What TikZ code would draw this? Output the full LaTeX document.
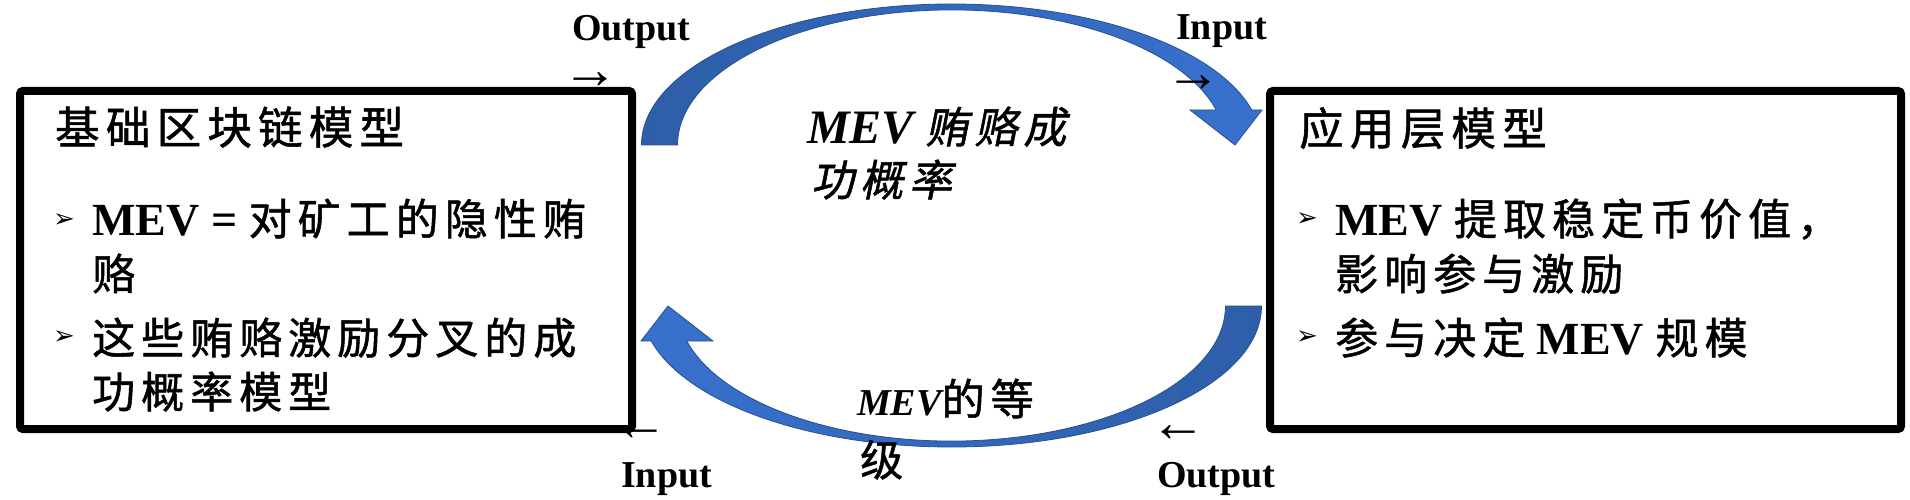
\documentclass[tikz,border=0pt]{standalone}
\usepackage{fontspec}
\setmainfont{Liberation Serif}
\newfontfamily\cjk{Noto Sans CJK SC}[LetterSpace=14,FakeBold=1.2]
\newfontfamily\cjkit{Noto Sans CJK SC}[LetterSpace=14,FakeSlant=0.2,FakeBold=1.2]
\newfontfamily\dejavu{DejaVu Sans}
\definecolor{arcdark}{RGB}{46,94,168}
\definecolor{arclight}{RGB}{56,113,206}
\definecolor{arcedge}{RGB}{40,80,145}
\newcommand\lat[1]{{\fontsize{46}{48}\selectfont\bfseries #1}}
\newcommand\zh[1]{{\cjk\fontsize{43}{45}\selectfont #1}}
\newcommand\zht[1]{{\cjk\fontsize{44.5}{46}\selectfont #1}}
\newcommand\zhit[1]{{\cjkit\fontsize{43}{45}\selectfont #1}}
\tikzset{
  modelbox/.style={draw=black, line width=8pt, rounded corners=3pt, inner sep=0pt},
  lbl/.style={inner sep=0pt, anchor=base west, font=\fontsize{38}{40}\selectfont\bfseries},
  arr/.style={inner sep=0pt, font=\fontsize{56}{58}\selectfont},
  txt/.style={inner sep=0pt, anchor=base west, font=\fontsize{46}{48}\selectfont},
  bul/.style={inner sep=0pt, font=\dejavu\fontsize{26}{26}\selectfont},
  band/.style={draw=arcedge, line width=0.8pt},
}
\begin{document}
\begin{tikzpicture}[x=1pt,y=-1pt]
\useasboundingbox (0,0) rectangle (1910,500);
\fill[white] (0,0) rectangle (1910,500);

% boxes
\node[modelbox, minimum width=612pt, minimum height=338pt] (lbox) at (326,260) {};
\node[modelbox, minimum width=631pt, minimum height=338pt] (rbox) at (1585.5,260) {};

% top curved arrow (left box -> right box)
\path[band, left color=arcdark, right color=arclight]
  (641.5,145) arc[start angle=180, end angle=345.6, x radius=310, y radius=141]
  -- (1262,110) -- (1235,145) -- (1190,110)
  -- (1216.2,110) arc[start angle=345, end angle=180, x radius=274, y radius=135]
  -- cycle;

% bottom curved arrow (right box -> left box)
\path[band, left color=arclight, right color=arcdark]
  (1261.5,306) arc[start angle=0, end angle=165.6, x radius=310, y radius=141]
  -- (641,341) -- (668,306) -- (713,341)
  -- (686.8,341) arc[start angle=165, end angle=0, x radius=274, y radius=135]
  -- cycle;

% left box text
\node[txt] (ltitle) at (55,144) {\zht{基础区块链模型}};
\node[bul] (lb1) at (64,221) {➢};
\node[txt] (l1) at (92,235) {\lat{MEV =} \zh{对矿工的隐性贿}};
\node[txt] (l2) at (92,290) {\zh{赂}};
\node[bul] (lb2) at (64,338) {➢};
\node[txt] (l3) at (92,354) {\zh{这些贿赂激励分叉的成}};
\node[txt] (l4) at (92,408) {\zh{功概率模型}};

% right box text
\node[txt] (rtitle) at (1299,145) {\zht{应用层模型}};
\node[bul] (rb1) at (1307,220) {➢};
\node[txt] (r1) at (1335,235) {\lat{MEV} \zh{提取稳定币价值，}};
\node[txt] (r2) at (1335,290) {\zh{影响参与激励}};
\node[bul] (rb2) at (1307,338) {➢};
\node[txt] (r3) at (1335,354) {\zh{参与决定} \lat{MEV} \zh{规模}};

% middle labels
\node[txt] (m1) at (807,143) {{\fontsize{48}{50}\selectfont\bfseries\itshape MEV} \zhit{贿赂成}};
\node[txt] (m2) at (811,196) {\zhit{功概率}};
\node[txt] (m3) at (857,415) {{\fontsize{38}{40}\selectfont\bfseries\itshape MEV}\zh{的等}};
\node[txt] (m4) at (860,476) {\zh{级}};

% input / output labels
\node[lbl] (out1) at (572,41) {Output};
\node[arr] (oa1) at (590,81) {→};
\node[lbl] (in1) at (1176,40) {Input};
\node[arr] (ia1) at (1193,84) {→};
\node[arr] (ia2) at (640,433) {←};
\node[lbl] (in2) at (621,487) {Input};
\node[arr] (oa2) at (1178,434) {←};
\node[lbl] (out2) at (1157,487) {Output};
\end{tikzpicture}
\end{document}
